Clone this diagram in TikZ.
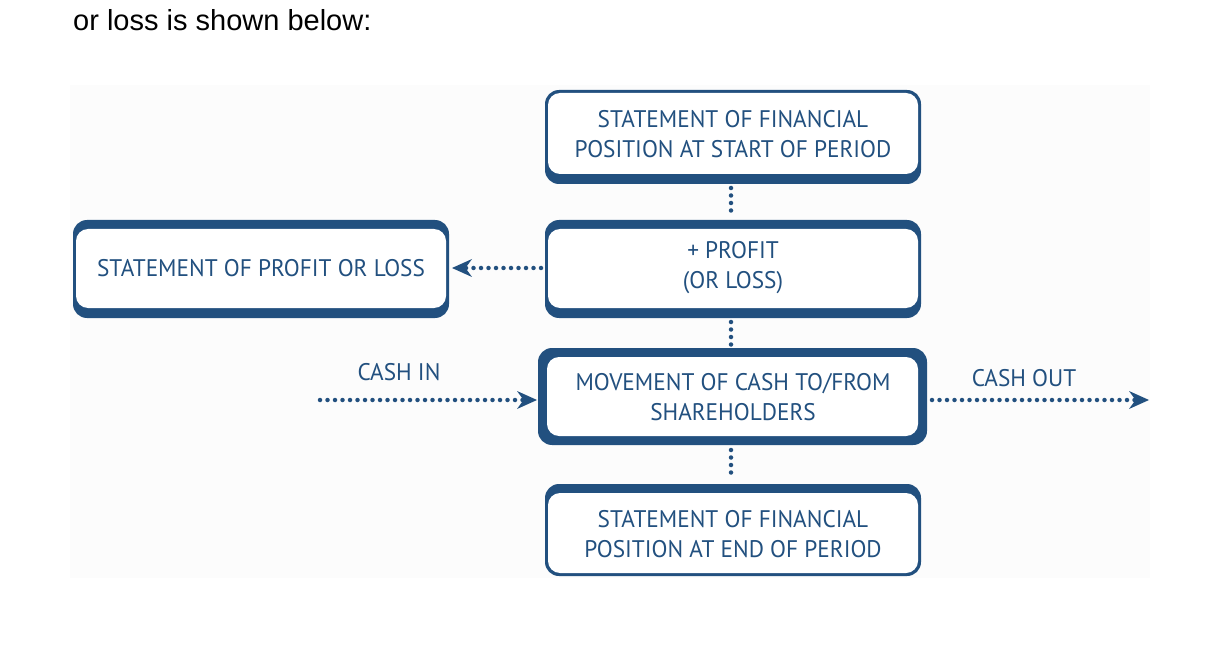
\documentclass[tikz,border=0pt]{standalone}
\usepackage{fontspec}
\setmainfont{PT Sans}[FakeStretch=0.97]
\newfontfamily\arialf{Liberation Sans}
\usetikzlibrary{arrows.meta}
\definecolor{dblue}{HTML}{22507F}
\begin{document}
\begin{tikzpicture}[x=1pt,y=-1pt,
  frame/.style={fill=dblue,rounded corners=14pt},
  txt/.style={text=dblue,font=\fontsize{24}{30}\selectfont,align=center},
  dots/.style={dblue,line width=4.5pt,dash pattern=on 0pt off 7.5pt,line cap=round},
  arr/.style={dots,-{Stealth[length=20pt,width=18pt,line width=0pt,line cap=butt]}}]
\useasboundingbox (0,0) rectangle (1224,671);
\fill[white] (0,0) rectangle (1224,671);
\fill[black!1] (70,85) rectangle (1150,578);
\node[anchor=base west,inner sep=0pt,font=\arialf\fontsize{29}{32}\selectfont] (hdr) at (73,31) {or loss is shown below:};
% frames
\fill[frame] (545,90) rectangle (921,184);
\fill[frame] (545,220) rectangle (921,318);
\fill[frame] (73,220) rectangle (449,318);
\fill[frame] (538,348) rectangle (927,445);
\fill[frame] (545,484) rectangle (921,576);
% inners
\fill[white,rounded corners=12pt] (548,93) rectangle (918,174);
\fill[white,rounded corners=12pt] (548,229) rectangle (918,308);
\fill[white,rounded corners=12pt] (76,229) rectangle (446,308);
\fill[white,rounded corners=12pt] (547,357) rectangle (918,436);
\fill[white,rounded corners=12pt] (548,493) rectangle (918,573);
\node[txt] (start) at (733,134) {STATEMENT OF FINANCIAL\\POSITION AT START OF PERIOD};
\node[txt] (profit) at (733,268) {+ PROFIT\\(OR LOSS)};
\node[txt] (spl) at (261,268) {STATEMENT OF PROFIT OR LOSS};
\node[txt] (move) at (733,397) {MOVEMENT OF CASH TO/FROM\\SHAREHOLDERS};
\node[txt] (end) at (733,534) {STATEMENT OF FINANCIAL\\POSITION AT END OF PERIOD};
\node[txt] (cin) at (399,372) {CASH IN};
\node[txt] (cout) at (1024,378) {CASH OUT};
\coordinate (a1) at (731,188); \coordinate (a2) at (731,216);
\coordinate (b1) at (731,322); \coordinate (b2) at (731,345);
\coordinate (c1) at (731,450); \coordinate (c2) at (731,480);
\draw[dots] (a1) -- (a2);
\draw[dots] (b1) -- (b2);
\draw[dots] (c1) -- (c2);
\coordinate (p1) at (541,268); \coordinate (p2) at (452,268);
\draw[arr] (p1) -- (p2);
\coordinate (ci) at (320,400); \coordinate (ci2) at (537,400);
\draw[arr] (ci) -- (ci2);
\coordinate (co) at (932,400); \coordinate (co2) at (1149,400);
\draw[arr] (co) -- (co2);
\end{tikzpicture}
\end{document}
